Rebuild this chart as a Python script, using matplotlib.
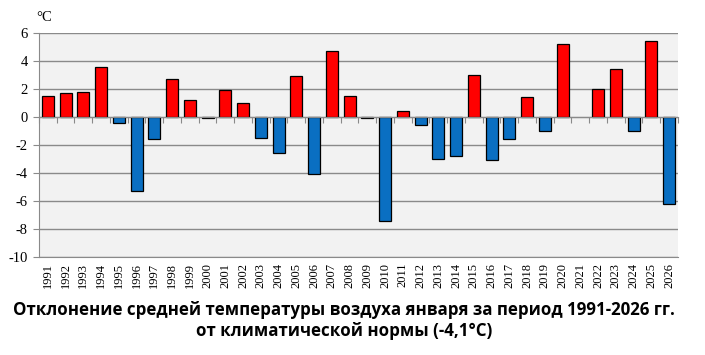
import matplotlib
matplotlib.use('Agg')
import matplotlib.pyplot as plt
import numpy as np

years = [str(y) for y in range(1991, 2027)]
anomaly = [1.5, 1.7, 1.8, 3.6, -0.4, -5.3, -1.6, 2.7, 1.2, -0.1,
           1.9, 1.0, -1.5, -2.6, 2.9, -4.1, 4.7, 1.5, -0.1, -7.4,
           0.4, -0.6, -3.0, -2.8, 3.0, -3.1, -1.6, 1.4, -1.0, 5.2,
           0.0, 2.0, 3.4, -1.0, 5.4, -6.2]
y_ticks = list(range(-10, 7, 2))
title = ('Отклонение средней температуры воздуха января за период 1991-2026 гг.\n'
         'от климатической нормы (-4,1°C)')

red = '#ff0000'
blue = '#0a6fc2'
grid_c = '#8a8a8a'

fig = plt.figure(figsize=(7.05, 3.55), dpi=100)
ax = fig.add_axes([0.0553, 0.276, 0.9064, 0.631])
ax.set_facecolor('#f2f2f2')

x = np.arange(len(years))
vals = np.array(anomaly)
colors = [red if v > 0 else blue for v in vals]
edges = ['black' if v != 0 else 'none' for v in vals]
ax.bar(x, vals, width=0.68, color=colors, edgecolor=edges, linewidth=0.9, zorder=3)

ax.set_xlim(-0.5, len(years) - 0.5)
ax.set_ylim(-10, 6)
ax.set_yticks(y_ticks)
ax.set_yticklabels([str(t) for t in y_ticks], family='Liberation Serif', fontsize=10.5)
ax.yaxis.grid(True, color=grid_c, linewidth=1.0, zorder=1)
ax.tick_params(axis='y', length=4, color=grid_c, pad=4)

# x axis line at zero with ticks between categories
for s in ['top', 'right']:
    ax.spines[s].set_visible(False)
ax.spines['left'].set_color(grid_c)
ax.spines['bottom'].set_position(('data', 0))
ax.spines['bottom'].set_color(grid_c)
ax.spines['bottom'].set_zorder(4)
ax.set_xticks(np.arange(len(years) + 1) - 0.5)
ax.set_xticklabels([])
ax.tick_params(axis='x', length=4, color=grid_c, direction='out')

# year labels at the bottom
sec = ax.secondary_xaxis('bottom')
sec.set_xticks(x)
sec.set_xticklabels(years, rotation=90, family='Liberation Serif', fontsize=9)
sec.tick_params(length=0, pad=4)
sec.spines['bottom'].set_color(grid_c)

ax.text(-0.005, 1.04, '°C', transform=ax.transAxes, family='Liberation Serif',
        fontsize=10.5, ha='left', va='bottom')

fig.text(0.488, 0.097, title, ha='center', va='center', family=['Open Sans', 'DejaVu Sans'],
         fontsize=12.2, fontweight='bold', linespacing=1.2)

fig.savefig('out.png', dpi=100)
